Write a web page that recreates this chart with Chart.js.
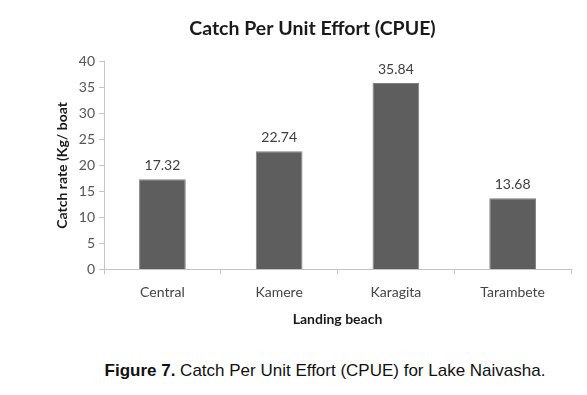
<!DOCTYPE html>
<html>
<head>
<meta charset="utf-8">
<script src="https://cdn.jsdelivr.net/npm/chart.js@4/dist/chart.umd.min.js"></script>
<style>
    html, body { margin: 0; padding: 0; background: #fff; }
    #wrap { position: relative; width: 587px; height: 395px; }
    #chart { position: absolute; left: 0; top: 0; }
    #caption {
        position: absolute; left: 0; width: 650px; top: 361px;
        text-align: center; font-family: "Liberation Sans", Arial, sans-serif;
        font-size: 17px; color: #111;
    }
</style>
</head>
<body>
<div id="wrap">
    <canvas id="chart" width="587" height="345"></canvas>
    <div id="caption"><b>Figure 7.</b> Catch Per Unit Effort (CPUE) for Lake Naivasha.</div>
</div>
<script>
// Chart data
const beaches = ['Central', 'Kamere', 'Karagita', 'Tarambete'];
const cpue = [17.32, 22.74, 35.84, 13.68];
const yTicks = [0, 5, 10, 15, 20, 25, 30, 35, 40];

const FONT = 'Lato, "Open Sans", sans-serif';
const axisGray = '#c4c4c4';

// Value labels above each bar
const barValues = {
    id: 'barValues',
    afterDatasetsDraw(chart) {
        const ctx = chart.ctx;
        const meta = chart.getDatasetMeta(0);
        ctx.save();
        ctx.font = '14px ' + FONT;
        ctx.fillStyle = '#404040';
        ctx.textAlign = 'center';
        ctx.textBaseline = 'bottom';
        meta.data.forEach((bar, i) => {
            ctx.fillText(cpue[i].toFixed(2), bar.x, bar.y - 7);
        });
        ctx.restore();
    }
};

new Chart(document.getElementById('chart'), {
    type: 'bar',
    data: {
        labels: beaches,
        datasets: [{
            data: cpue,
            backgroundColor: '#5e5e5e',
            borderColor: '#808080',
            borderWidth: 1,
            barPercentage: 0.4,
            categoryPercentage: 1.0
        }]
    },
    options: {
        responsive: false,
        animation: false,
        layout: { padding: { left: 54, right: 16, top: 0, bottom: 17 } },
        plugins: {
            legend: { display: false },
            tooltip: { enabled: false },
            title: {
                display: true,
                text: 'Catch Per Unit Effort (CPUE)',
                color: '#1a1a1a',
                font: { family: FONT, size: 19.5, weight: 'bold' },
                padding: { top: 17, bottom: 21 }
            }
        },
        scales: {
            y: {
                min: 0,
                max: 40,
                afterBuildTicks: axis => { axis.ticks = yTicks.map(v => ({ value: v })); },
                border: { color: axisGray, width: 1 },
                grid: { drawOnChartArea: false, color: axisGray, tickLength: 5 },
                ticks: { color: '#555', padding: 4, font: { family: FONT, size: 14 } },
                title: {
                    display: true,
                    text: 'Catch rate (Kg/ boat',
                    color: '#1a1a1a',
                    font: { family: FONT, size: 14, weight: 'bold' },
                    padding: { top: 0, bottom: 4 }
                }
            },
            x: {
                border: { color: axisGray, width: 1 },
                grid: { offset: true, drawOnChartArea: false, color: axisGray, tickLength: 5 },
                ticks: { color: '#444', padding: 10, font: { family: FONT, size: 14 } },
                title: {
                    display: true,
                    text: 'Landing beach',
                    color: '#1a1a1a',
                    font: { family: FONT, size: 14, weight: 'bold' },
                    padding: { top: 0, bottom: 0 }
                }
            }
        }
    },
    plugins: [barValues]
});
</script>
</body>
</html>
